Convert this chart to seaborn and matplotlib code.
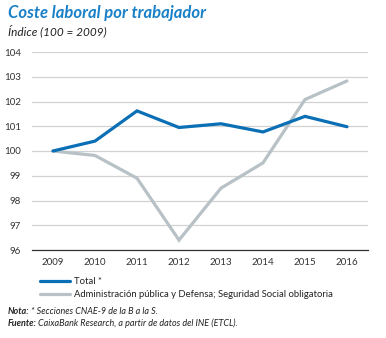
import matplotlib
matplotlib.use("Agg")
import matplotlib.pyplot as plt
import seaborn as sns
import pandas as pd
import numpy as np

years = ["2009", "2010", "2011", "2012", "2013", "2014", "2015", "2016"]
total = [100.0, 100.40, 101.62, 100.95, 101.10, 100.77, 101.40, 100.98]
admin = [100.0, 99.82, 98.90, 96.40, 98.50, 99.52, 102.08, 102.83]
series_names = ["Total *", "Administración pública y Defensa; Seguridad Social obligatoria"]
y_ticks = [96, 97, 98, 99, 100, 101, 102, 103, 104]

sns.set_theme(style="white")
plt.rcParams['font.family'] = ['Lato', 'DejaVu Sans']

df = pd.DataFrame({
    "year": years * 2,
    "x": list(range(len(years))) * 2,
    "value": total + admin,
    "serie": [series_names[0]] * len(years) + [series_names[1]] * len(years),
})

BLUE = "#0b6fb6"
GREY = "#b7c1c6"
TITLE_BLUE = "#1a80c8"

fig = plt.figure(figsize=(3.86, 3.38), dpi=100)
ax = fig.add_axes([32/386, 1 - 250/338, (368-32)/386, (250-52)/338])

sns.lineplot(data=df, x="x", y="value", hue="serie", hue_order=series_names[::-1],
             palette={series_names[0]: BLUE, series_names[1]: GREY},
             ax=ax, legend=False, linewidth=2.3, sort=False)
for ln in ax.get_lines():
    ln.set_solid_joinstyle("miter")

ax.set_xlim(-0.5, len(years) - 0.5)
ax.set_ylim(96, 104)
ax.set_yticks(y_ticks)
ax.set_yticklabels([str(t) for t in y_ticks], fontsize=7, color="#333333")
ax.tick_params(axis="y", length=0, pad=8)
ax.yaxis.grid(True, color="#d2d2d2", linewidth=0.9)
ax.set_axisbelow(True)

ax.set_xticks(np.arange(-0.5, len(years)), minor=False)
ax.set_xticklabels([])
ax.set_xticks(np.arange(len(years)), minor=True)
ax.set_xticklabels(years, minor=True, fontsize=7, color="#333333")
ax.tick_params(axis="x", which="major", direction="in", length=3, width=0.8, color="#333333")
ax.tick_params(axis="x", which="minor", length=0, pad=6)
ax.set_xlabel("")
ax.set_ylabel("")

for s in ["left", "right", "top"]:
    ax.spines[s].set_visible(False)
ax.spines["bottom"].set_color("#333333")
ax.spines["bottom"].set_linewidth(0.9)

# legend
from matplotlib.lines import Line2D
handles = [Line2D([0], [0], color=BLUE, lw=2.3), Line2D([0], [0], color=GREY, lw=2.3)]
fig.legend(handles, series_names, loc="upper left", bbox_to_anchor=(40/386, 1 - 277/338),
           frameon=False, fontsize=6.8, handlelength=3.2, handletextpad=0.4,
           labelspacing=0.45, borderaxespad=0, borderpad=0, labelcolor="#222222")

# titles
fig.text(8/386, 1 - 13/338, "Coste laboral por trabajador", fontsize=12, fontweight="bold",
         fontstyle="italic", color=TITLE_BLUE, va="center", ha="left")
fig.text(8/386, 1 - 31/338, "Índice (100 = 2009)", fontsize=8.5, fontstyle="italic",
         color="#222222", va="center", ha="left")

# notes
fig.canvas.draw()
renderer = fig.canvas.get_renderer()

def two_part(y, bold, rest):
    t = fig.text(8/386, 1 - y/338, bold, fontsize=6.5, fontweight="bold", fontstyle="italic",
                 color="#222222", va="center", ha="left")
    bb = t.get_window_extent(renderer=renderer)
    fig.text(bb.x1 / fig.bbox.width + 1/386, 1 - y/338, rest, fontsize=6.5, fontstyle="italic",
             color="#222222", va="center", ha="left")

two_part(311, "Nota:", "* Secciones CNAE-9 de la B a la S.")
two_part(323, "Fuente:", "CaixaBank Research, a partir de datos del INE (ETCL).")

fig.savefig("out.png", dpi=100)
